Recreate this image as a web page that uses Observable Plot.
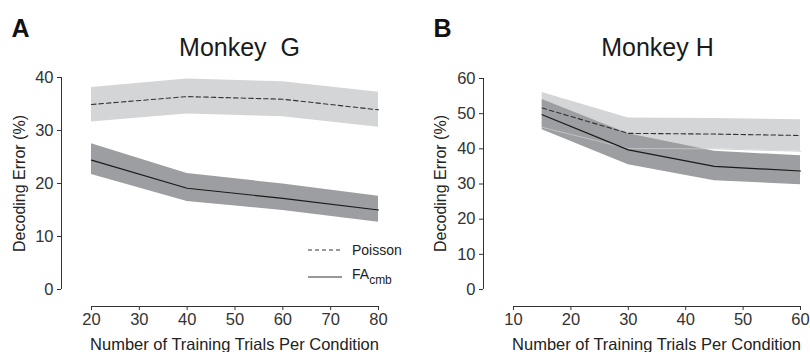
<!DOCTYPE html>
<html>
<head>
<meta charset="utf-8">
<script src="https://cdn.jsdelivr.net/npm/d3@7"></script>
<script src="https://cdn.jsdelivr.net/npm/@observablehq/plot@0.6"></script>
<style>
  body { margin: 0; background: #fff; font-family: "Liberation Sans", Arial, Helvetica, sans-serif; }
  #wrap { position: relative; width: 810px; height: 352px; display: flex; overflow: hidden; }
  .panel { position: relative; width: 405px; height: 352px; }
  .legend { position: absolute; font-size: 14px; color: #222; }
  .legend .row { position: absolute; display: flex; align-items: center; white-space: nowrap; }
  .legend sub { font-size: 12px; vertical-align: -5px; }
</style>
</head>
<body>
<div id="wrap">
  <div class="panel" id="pa"></div>
  <div class="panel" id="pb"></div>
</div>
<script>
// ---- Panel A: Monkey G ----
const xA = [20, 40, 60, 80];
const poissonA = [34.9, 36.4, 35.9, 33.9];
const poissonALo = [31.6, 33.1, 32.6, 30.6];
const poissonAHi = [38.1, 39.7, 39.2, 37.2];
const faA = [24.4, 19.1, 17.2, 15.0];
const faALo = [21.7, 16.6, 14.9, 12.7];
const faAHi = [27.5, 21.9, 19.9, 17.6];
const xTicksA = [20, 30, 40, 50, 60, 70, 80];
const yTicksA = [0, 10, 20, 30, 40];

// ---- Panel B: Monkey H ----
const xB = [15, 30, 45, 60];
const poissonB = [51.6, 44.4, 44.2, 43.8];
const poissonBLo = [46.1, 40.1, 40.0, 39.3];
const poissonBHi = [56.0, 48.8, 48.6, 48.3];
const faB = [49.7, 39.7, 35.0, 33.7];
const faBLo = [45.4, 35.5, 30.9, 29.8];
const faBHi = [54.0, 44.3, 39.3, 38.0];
const xTicksB = [10, 20, 30, 40, 50, 60];
const yTicksB = [0, 10, 20, 30, 40, 50, 60];

const LIGHT = "#d4d5d7";
const DARK = "#9d9ea1";

function rows(xs, m, lo, hi) {
  return xs.map((x, i) => ({x, m: m[i], lo: lo[i], hi: hi[i]}));
}

function panel(cfg) {
  const P = rows(cfg.x, cfg.pm, cfg.plo, cfg.phi);
  const F = rows(cfg.x, cfg.fm, cfg.flo, cfg.fhi);
  const xMin = cfg.xDomain[0], yMin = cfg.yDomain[0];
  const xt = cfg.xTicks, yt = cfg.yTicks;
  const frameMidX = (cfg.ml + (405 - cfg.mr)) / 2;
  const frameMidY = (cfg.mt + (352 - cfg.mb)) / 2;
  const marks = [
    Plot.areaY(P, {x: "x", y1: "lo", y2: "hi", fill: LIGHT}),
    Plot.areaY(F, {x: "x", y1: "lo", y2: "hi", fill: DARK}),
  ];
  if (cfg.edge) marks.push(Plot.lineY(P, {x: "x", y: "lo", stroke: "#c9cacc", strokeWidth: 0.8}));
  marks.push(
    Plot.lineY(P, {x: "x", y: "m", stroke: "#333", strokeWidth: 1.1, strokeDasharray: "4.5,3"}),
    Plot.lineY(F, {x: "x", y: "m", stroke: "#1a1a1a", strokeWidth: 1.2}),
    Plot.axisY({ticks: yt, tickSize: 4, tickPadding: 4, label: null, fontSize: 16.5}),
    Plot.ruleX([xMin], {y1: yt[0], y2: yt[yt.length - 1], stroke: "#333"}),
    Plot.axisX({ticks: xt, tickSize: 4, tickPadding: 3, label: null, fontSize: 16.5}),
    Plot.ruleY([yMin], {x1: xt[0], x2: xt[xt.length - 1], stroke: "#333"}),
    Plot.text([cfg.ylabel], {frameAnchor: "left", textAnchor: "middle", rotate: -90, dx: cfg.ylabelX - cfg.ml, dy: cfg.ylabelY - frameMidY, fontSize: 16, fill: "#222"}),
    Plot.text([cfg.xlabel], {frameAnchor: "bottom", textAnchor: "middle", dx: cfg.xlabelX - frameMidX, dy: 43, lineAnchor: "bottom", fontSize: 16.5, fill: "#222"}),
    Plot.text([cfg.title], {frameAnchor: "top", textAnchor: "middle", dx: cfg.titleX - frameMidX, dy: 55 - cfg.mt, lineAnchor: "bottom", fontSize: 25, fill: "#1a1a1a"}),
    Plot.text([cfg.letter], {frameAnchor: "top-left", textAnchor: "start", dx: cfg.letterX - cfg.ml, dy: 36 - cfg.mt, lineAnchor: "bottom", fontSize: 25, fontWeight: "bold", fill: "#111"})
  );
  return Plot.plot({
    width: 405, height: 352,
    marginTop: cfg.mt, marginBottom: cfg.mb, marginLeft: cfg.ml, marginRight: cfg.mr,
    x: {domain: cfg.xDomain},
    y: {domain: cfg.yDomain},
    style: {fontFamily: '"Liberation Sans", Arial, Helvetica, sans-serif', color: "#333", background: "white", overflow: "visible"},
    marks
  });
}

const a = panel({
  x: xA, pm: poissonA, plo: poissonALo, phi: poissonAHi, fm: faA, flo: faALo, fhi: faAHi,
  xTicks: xTicksA, yTicks: yTicksA,
  xDomain: [13.73, 80], yDomain: [-3.21, 40],
  mt: 77, mb: 46, ml: 61, mr: 27,
  ylabel: "Decoding Error (%)", ylabelX: 19, ylabelY: 183,
  xlabel: "Number of Training Trials Per Condition", xlabelX: 234,
  title: "Monkey\u00a0 G", titleX: 239, letter: "A", letterX: 11, edge: false
});
const b = panel({
  x: xB, pm: poissonB, plo: poissonBLo, phi: poissonBHi, fm: faB, flo: faBLo, fhi: faBHi,
  xTicks: xTicksB, yTicks: yTicksB,
  xDomain: [4.77, 60], yDomain: [-4.83, 60],
  mt: 78, mb: 46, ml: 78, mr: 10,
  ylabel: "Decoding Error (%)", ylabelX: 35, ylabelY: 183,
  xlabel: "Number of Training Trials Per Condition", xlabelX: 251,
  title: "Monkey H", titleX: 252, letter: "B", letterX: 28, edge: true
});
document.getElementById("pa").appendChild(a);
document.getElementById("pb").appendChild(b);

// Legend (panel A)
const legendItems = [
  {name: "Poisson", dash: "4,3", sub: ""},
  {name: "FA", dash: null, sub: "cmb"}
];
const leg = document.createElement("div");
leg.className = "legend";
leg.style.left = "308px";
leg.style.top = "241px";
legendItems.forEach((it, i) => {
  const r = document.createElement("div");
  r.className = "row";
  r.style.top = (i * 25) + "px";
  r.innerHTML = `<svg width="36" height="18"><line x1="0" x2="34" y1="9" y2="9" stroke="#333" stroke-width="1.1" ${it.dash ? `stroke-dasharray="${it.dash}"` : ""}/></svg>` +
    `<span style="margin-left:8px">${it.name}${it.sub ? `<sub>${it.sub}</sub>` : ""}</span>`;
  leg.appendChild(r);
});
document.getElementById("pa").appendChild(leg);
</script>
</body>
</html>
